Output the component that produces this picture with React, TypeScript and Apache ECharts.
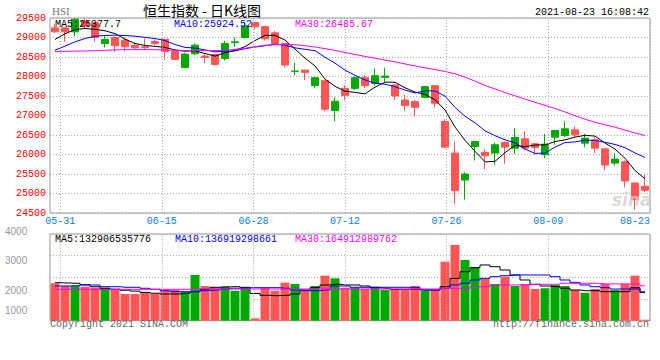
import React, { useEffect, useRef } from 'react';
import * as echarts from 'echarts';

const dates = [
  '05-28', '05-31', '06-01', '06-02', '06-03', '06-04', '06-07', '06-08', '06-09', '06-10',
  '06-11', '06-15', '06-16', '06-17', '06-18', '06-21', '06-22', '06-23', '06-24', '06-25',
  '06-28', '06-29', '06-30', '07-02', '07-05', '07-06', '07-07', '07-08', '07-09', '07-12',
  '07-13', '07-14', '07-15', '07-16', '07-19', '07-20', '07-21', '07-22', '07-23', '07-26',
  '07-27', '07-28', '07-29', '07-30', '08-02', '08-03', '08-04', '08-05', '08-06', '08-09',
  '08-10', '08-11', '08-12', '08-13', '08-16', '08-17', '08-18', '08-19', '08-20', '08-23',
];

const opens = [
  29247, 29247, 29145, 29420, 29383, 28847, 29000, 28932, 28804, 28760,
  28898, 28957, 28642, 28233, 28583, 28523, 28566, 28463, 28870, 29000,
  29383, 29281, 29119, 28847, 28130, 28165, 27765, 27893, 27126, 27697,
  27697, 27969, 27824, 27978, 27782, 27399, 27356, 27467, 27765, 26845,
  26036, 25346, 26206, 26053, 26036, 26308, 26163, 26402, 26274, 25993,
  26445, 26487, 26632, 26291, 26376, 26146, 25780, 25814, 25269, 25184,
];
const closes = [
  29145, 29145, 29468, 29297, 29000, 28949, 28787, 28761, 28736, 28740,
  28847, 28642, 28438, 28574, 28804, 28489, 28310, 28847, 28889, 29298,
  29273, 28966, 28847, 28293, 28140, 28106, 27969, 27160, 27365, 27509,
  27969, 27765, 28020, 28012, 27501, 27254, 27211, 27739, 27313, 26189,
  25073, 25499, 26334, 25967, 26249, 26189, 26436, 26163, 26180, 26266,
  26615, 26658, 26504, 26419, 26163, 25729, 25882, 25320, 24843, 25082,
];
const lows = [
  29120, 28889, 29034, 29220, 28889, 28744, 28625, 28651, 28693, 28676,
  28804, 28438, 28421, 28208, 28549, 28336, 28284, 28412, 28761, 28974,
  29213, 28923, 28804, 28233, 28029, 27910, 27705, 27109, 26854, 27390,
  27650, 27697, 27765, 27867, 27399, 27117, 26973, 27441, 27211, 26163,
  24732, 24843, 25848, 25627, 25738, 25763, 26019, 26104, 25993, 25908,
  26249, 26445, 26419, 26189, 26036, 25593, 25712, 25158, 24588, 25039,
];
const highs = [
  29341, 29260, 29490, 29490, 29400, 29034, 29005, 29000, 28864, 28974,
  28949, 28965, 28676, 28608, 28847, 28574, 28591, 28915, 29000, 29400,
  29400, 29300, 29170, 28850, 28353, 28170, 27995, 27900, 27467, 27773,
  28000, 28037, 28208, 28225, 27790, 27526, 27399, 27756, 27770, 26905,
  26334, 25542, 26340, 26138, 26308, 26334, 26675, 26589, 26291, 26530,
  26632, 26845, 26717, 26530, 26445, 26150, 26036, 25848, 25275, 25482,
];

const ma5 = [
  28950, 29095, 29205, 29230, 29211, 29172, 29100, 28959, 28847, 28795,
  28774, 28745, 28681, 28648, 28661, 28589, 28523, 28605, 28668, 28767,
  28923, 29055, 29055, 28935, 28704, 28470, 28271, 27934, 27748, 27622,
  27594, 27554, 27726, 27855, 27853, 27710, 27600, 27543, 27404, 27141,
  26705, 26363, 26082, 25812, 25824, 26048, 26235, 26201, 26243, 26247,
  26332, 26376, 26445, 26492, 26472, 26295, 26139, 25903, 25587, 25378,
];
const ma10 = [
  28676, 28779, 28889, 28974, 29034, 29051, 29060, 29051, 29034, 29003,
  28973, 28923, 28820, 28747, 28728, 28682, 28634, 28643, 28658, 28714,
  28756, 28789, 28830, 28802, 28735, 28697, 28663, 28494, 28342, 28163,
  28032, 27912, 27830, 27802, 27738, 27652, 27577, 27635, 27629, 27497,
  27208, 26981, 26813, 26608, 26483, 26376, 26299, 26141, 26028, 26036,
  26190, 26306, 26323, 26368, 26359, 26313, 26258, 26174, 26040, 25925,
];
const ma30 = [
  28642, 28645, 28650, 28655, 28660, 28672, 28682, 28688, 28690, 28690,
  28688, 28680, 28672, 28668, 28665, 28665, 28665, 28672, 28695, 28725,
  28765, 28800, 28815, 28820, 28815, 28790, 28755, 28715, 28670, 28615,
  28565, 28515, 28468, 28420, 28375, 28322, 28272, 28222, 28178, 28130,
  28070, 27985, 27880, 27770, 27680, 27590, 27505, 27420, 27340, 27260,
  27180, 27090, 26995, 26905, 26825, 26760, 26700, 26625, 26552, 26486,
];

// turnover, 100 million HKD
const volumes = [
  1769, 1641, 1641, 1608, 1561, 1561, 1485, 1263, 1263, 1324,
  1263, 1452, 1452, 1372, 2162, 1641, 1580, 1608, 1419, 1608,
  110, 1561, 1419, 1798, 1735, 1419, 1641, 2130, 2004, 1561,
  1561, 1498, 1608, 1452, 1498, 1452, 1641, 1419, 1452, 2791,
  3581, 2871, 2526, 1972, 1735, 2081, 1641, 1735, 1498, 1533,
  1689, 1641, 1452, 1324, 1498, 1735, 1452, 1735, 2130, 47,
];
const volMa5 = [
  1797, 1785, 1769, 1700, 1608, 1533, 1490, 1440, 1400, 1340,
  1300, 1263, 1263, 1290, 1372, 1485, 1580, 1600, 1608, 1560,
  1290, 1200, 1183, 1200, 1263, 1452, 1561, 1689, 1722, 1689,
  1689, 1641, 1561, 1533, 1485, 1485, 1485, 1452, 1452, 1608,
  2000, 2318, 2507, 2635, 2554, 2398, 2162, 1925, 1722, 1641,
  1608, 1533, 1452, 1419, 1419, 1372, 1372, 1372, 1561, 1329,
];
const volMa10 = [
  1641, 1641, 1655, 1689, 1689, 1608, 1608, 1580, 1580, 1533,
  1485, 1419, 1372, 1372, 1372, 1419, 1452, 1499, 1533, 1561,
  1561, 1561, 1561, 1533, 1452, 1419, 1419, 1452, 1641, 1641,
  1580, 1580, 1580, 1580, 1580, 1580, 1580, 1452, 1452, 1533,
  1689, 1769, 1925, 2003, 2081, 2129, 2162, 2162, 2162, 2162,
  2081, 1925, 1813, 1689, 1608, 1561, 1499, 1499, 1499, 1369,
];
const volMa30 = [
  1485, 1485, 1485, 1485, 1485, 1485, 1485, 1485, 1485, 1485,
  1485, 1485, 1485, 1485, 1500, 1500, 1500, 1500, 1500, 1500,
  1500, 1500, 1500, 1500, 1500, 1500, 1500, 1500, 1500, 1500,
  1500, 1500, 1500, 1500, 1500, 1500, 1500, 1500, 1500, 1533,
  1533, 1533, 1608, 1608, 1689, 1689, 1689, 1689, 1722, 1722,
  1722, 1769, 1769, 1769, 1769, 1740, 1740, 1740, 1740, 1649,
];

const dateLabelIdx = [1, 11, 20, 29, 39, 49, 59];
const volumeTickLabels = ['4000', '3000', '2000', '1000'];
const legendMain = ['MA5:25377.7', 'MA10:25924.52', 'MA30:26485.67'];
const legendVol = ['MA5:132906535776', 'MA10:136919298661', 'MA30:164912989762'];

const RED = '#ff5555';
const GREEN = '#00a800';
const MONO = '"Liberation Mono", "DejaVu Sans Mono", monospace';

export default function App() {
  const ref = useRef<HTMLDivElement>(null);

  useEffect(() => {
    const chart = echarts.init(ref.current as HTMLDivElement, null, { renderer: 'svg' });
    const candleData = dates.map((_, i) => [opens[i], closes[i], lows[i], highs[i]]);
    const volData = volumes.map((v, i) => ({
      value: v,
      itemStyle: { color: closes[i] >= opens[i] ? GREEN : RED },
    }));
    const labelMap: Record<number, string> = {};
    dateLabelIdx.forEach((i) => (labelMap[i] = dates[i]));
    const dotted = { color: '#aaa', type: [1, 2], width: 1 };
    const legendColors = ['#000000', '#0000ff', '#ff00ff'];
    const legendX = [55, 174, 295];
    const volLabelY = [231, 260.7, 290, 310.7];

    const txt = (text: string, x: number, y: number, fill: string, extra: any = {}) => ({
      type: 'text',
      x,
      y,
      z: 100,
      silent: true,
      style: {
        text,
        fill,
        fontFamily: MONO,
        fontSize: 10,
        align: 'left',
        verticalAlign: 'middle',
        ...extra,
      },
    });

    const graphics: any[] = [
      txt('HSI', 52, 11, '#777', { fontFamily: '"Liberation Serif", serif', fontSize: 11 }),
      txt('恒生指数 - 日K线图', 202, 10, '#000', {
        fontFamily: '"Noto Sans CJK SC", sans-serif',
        fontSize: 14,
        align: 'center',
      }),
      txt('2021-08-23 16:08:42', 649, 12, '#000', { align: 'right' }),
      ...legendMain.map((t, k) => txt(t, legendX[k], 24, legendColors[k])),
      ...legendVol.map((t, k) => txt(t, [55, 175, 295][k], 239, legendColors[k])),
      ...volumeTickLabels.map((t, k) =>
        txt(t, 5, volLabelY[k], '#999', { fontFamily: '"Liberation Sans", sans-serif' })
      ),
      txt('Copyright 2021 SINA.COM', 50, 324.5, '#666'),
      txt('http://finance.sina.com.cn', 649, 324.5, '#666', { align: 'right' }),
      txt('sina', 612, 200, '#d0d0d0', {
        fontFamily: '"DejaVu Sans", sans-serif',
        fontSize: 17,
        fontStyle: 'italic',
        fontWeight: 'bold',
        opacity: 0.8,
      }),
    ];

    const hiddenCat = (gridIndex: number) => ({
      type: 'category',
      gridIndex,
      data: dates,
      boundaryGap: true,
      axisLine: { show: false },
      axisTick: { show: false },
      axisLabel: { show: false },
      splitLine: { show: false },
    });

    const maLine = (name: string, data: number[], color: string, xi: number, yi: number, step?: any) => ({
      name,
      type: 'line',
      xAxisIndex: xi,
      yAxisIndex: yi,
      data,
      symbol: 'none',
      step: step || false,
      lineStyle: { color, width: 1 },
      itemStyle: { color },
      z: 3,
      silent: true,
    });

    const marker = (xi: number, yi: number, y0: number) => ({
      type: 'scatter',
      xAxisIndex: xi,
      yAxisIndex: yi,
      data: [[0, y0]],
      symbolSize: 0,
      silent: true,
      z: 1,
      markLine: {
        silent: true,
        animation: false,
        symbol: ['none', 'none'],
        label: { show: false },
        lineStyle: dotted,
        data: dateLabelIdx.map((i) => ({ xAxis: i })),
      },
    });

    chart.setOption({
      animation: false,
      backgroundColor: '#ffffff',
      grid: [
        { left: 50, top: 18, width: 600, height: 195, show: true, borderColor: '#999', borderWidth: 1 },
        { left: 50, top: 234, width: 600, height: 86.7, show: true, borderColor: '#999', borderWidth: 1 },
      ],
      xAxis: [
        hiddenCat(0),
        {
          type: 'value',
          gridIndex: 0,
          min: 0,
          max: 59,
          interval: 1,
          position: 'bottom',
          axisLine: { show: false },
          axisTick: { show: false },
          splitLine: { show: false },
          axisLabel: {
            formatter: (v: number) => labelMap[v] ?? '',
            color: '#0a80dc',
            fontFamily: MONO,
            fontSize: 10,
            margin: 3,
            showMinLabel: true,
            showMaxLabel: true,
            alignMaxLabel: 'right',
          },
        },
        hiddenCat(1),
        { type: 'value', gridIndex: 1, min: 0, max: 59, interval: 1, show: false },
      ],
      yAxis: [
        {
          type: 'value',
          gridIndex: 0,
          min: 24500,
          max: 29500,
          interval: 500,
          axisLine: { show: false },
          axisTick: { show: false },
          axisLabel: {
            formatter: (v: number) => String(v),
            color: '#ff0000',
            fontFamily: MONO,
            fontSize: 10,
            margin: 4,
            padding: [0, 0, 4, 0],
          },
          splitLine: { lineStyle: dotted },
        },
        {
          type: 'value',
          gridIndex: 1,
          min: 0,
          max: 4100,
          interval: 1025,
          axisLine: { show: false },
          axisTick: { show: false },
          axisLabel: { show: false },
          splitLine: { lineStyle: dotted },
        },
      ],
      series: [
        marker(1, 0, 24500),
        marker(3, 1, 0),
        {
          type: 'candlestick',
          xAxisIndex: 0,
          yAxisIndex: 0,
          data: candleData,
          barWidth: 8,
          silent: true,
          z: 2,
          itemStyle: { color: GREEN, color0: RED, borderColor: GREEN, borderColor0: RED, borderWidth: 1 },
        },
        maLine('MA5', ma5, '#000000', 0, 0),
        maLine('MA10', ma10, '#0000ff', 0, 0),
        maLine('MA30', ma30, '#ff00ff', 0, 0),
        {
          type: 'bar',
          xAxisIndex: 2,
          yAxisIndex: 1,
          data: volData,
          barWidth: 9,
          silent: true,
          z: 2,
        },
        maLine('VMA5', volMa5, '#000000', 2, 1, 'middle'),
        maLine('VMA10', volMa10, '#0000ff', 2, 1, 'middle'),
        maLine('VMA30', volMa30, '#ff00ff', 2, 1, 'middle'),
      ],
      graphic: graphics,
    });

    return () => chart.dispose();
  }, []);

  return (
    <div
      ref={ref}
      style={{ position: 'fixed', left: 0, top: 0, width: 660, height: 360, background: '#fff' }}
    />
  );
}
